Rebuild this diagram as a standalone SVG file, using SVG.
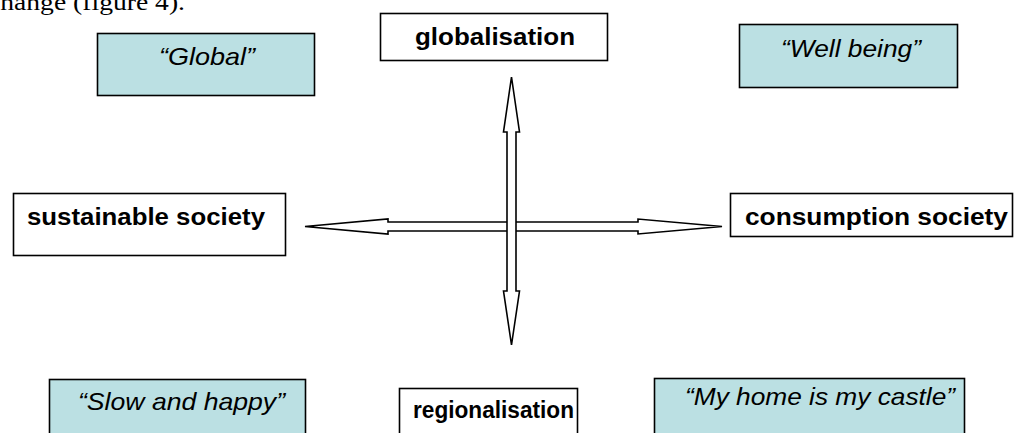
<svg xmlns="http://www.w3.org/2000/svg" width="1019" height="433" viewBox="0 0 1019 433">
<style>
.box{fill:#fff;stroke:#000;stroke-width:1.6}
.cy{fill:#BBE0E3;stroke:#000;stroke-width:1.6}
.b{font-family:"Liberation Sans",Arial,sans-serif;font-weight:bold;font-size:23px;fill:#000}
.i{font-family:"Liberation Sans",Arial,sans-serif;font-style:italic;font-size:24px;fill:#000}
.arr{fill:#fff;stroke:#000;stroke-width:1.6;stroke-linejoin:miter}
</style>
<rect width="1019" height="433" fill="#fff"/>
<text x="-12" y="10" font-family="'Liberation Serif',serif" font-size="24" textLength="197" lengthAdjust="spacingAndGlyphs">change (figure 4).</text>
<g id="connectors">
<polygon class="arr" points="305,226.5 388,219 388,222 638,222 638,219 722,226.5 638,234 638,231 388,231 388,234"/>
<polygon class="arr" points="511.5,77 519.5,132 516,132 516,291 519.5,291 511.5,345 503.5,291 507,291 507,132 503.5,132"/>
</g>
<g id="global"><rect class="cy" x="97.5" y="33.5" width="217" height="62"/><text class="i" x="207" y="65" text-anchor="middle" textLength="96" lengthAdjust="spacingAndGlyphs">“Global”</text></g>
<g id="globalisation"><rect class="box" x="380.5" y="13.5" width="227" height="47"/><text class="b" x="495" y="45" text-anchor="middle" textLength="160" lengthAdjust="spacingAndGlyphs">globalisation</text></g>
<g id="wellbeing"><rect class="cy" x="739.5" y="24.5" width="218" height="63"/><text class="i" x="851" y="57" text-anchor="middle" textLength="140" lengthAdjust="spacingAndGlyphs">“Well being”</text></g>
<g id="sustainable"><rect class="box" x="13.5" y="193.5" width="272" height="62"/><text class="b" x="146" y="225" text-anchor="middle" textLength="238" lengthAdjust="spacingAndGlyphs">sustainable society</text></g>
<g id="consumption"><rect class="box" x="730.5" y="193.5" width="282" height="43"/><text class="b" x="876.5" y="225" text-anchor="middle" textLength="263" lengthAdjust="spacingAndGlyphs">consumption society</text></g>
<g id="slow"><rect class="cy" x="49.5" y="379.5" width="256" height="60"/><text class="i" x="181.5" y="410" text-anchor="middle" textLength="207" lengthAdjust="spacingAndGlyphs">“Slow and happy”</text></g>
<g id="regionalisation"><rect class="box" x="399.5" y="388.5" width="178" height="50"/><text class="b" x="413" y="418" font-size="26" textLength="161" lengthAdjust="spacingAndGlyphs">regionalisation</text></g>
<g id="myhome"><rect class="cy" x="654.5" y="378.5" width="310" height="60"/><text class="i" x="685" y="405" textLength="270" lengthAdjust="spacingAndGlyphs">“My home is my castle”</text></g>
</svg>
